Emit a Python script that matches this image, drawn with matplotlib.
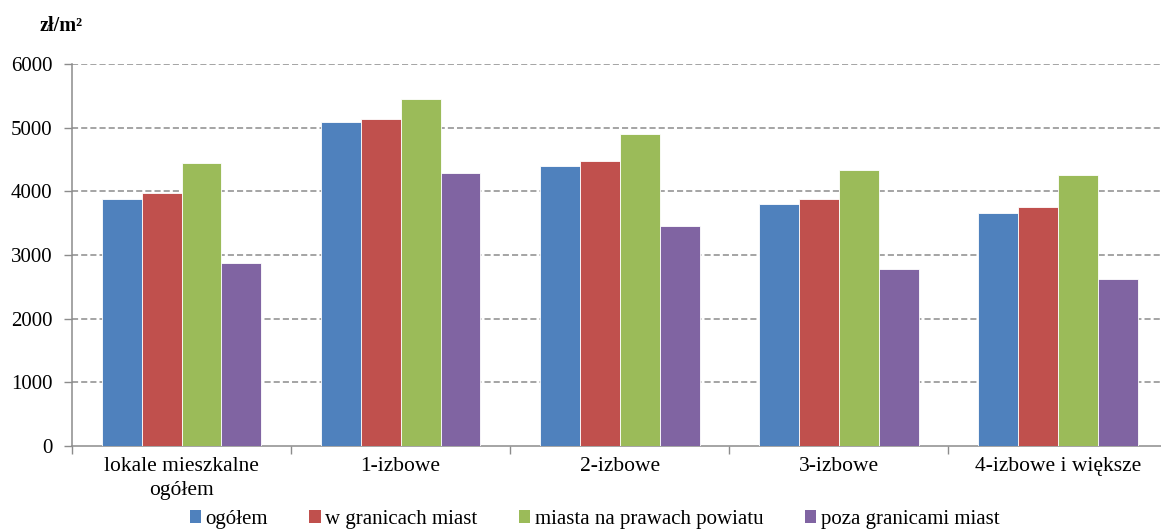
import numpy as np
import matplotlib.pyplot as plt
from matplotlib.patches import Patch

# Ceny lokali mieszkalnych (zł/m2)
categories = ["lokale mieszkalne\nogółem", "1-izbowe", "2-izbowe", "3-izbowe", "4-izbowe i większe"]
series_names = ["ogółem", "w granicach miast", "miasta na prawach powiatu", "poza granicami miast"]
ogolem = [3880, 5095, 4400, 3800, 3655]
w_granicach = [3970, 5140, 4470, 3880, 3755]
miasta_npp = [4445, 5445, 4900, 4330, 4250]
poza_granicami = [2870, 4285, 3455, 2785, 2630]
yticks = [0, 1000, 2000, 3000, 4000, 5000, 6000]

colors = ["#4F81BD", "#C0504D", "#9BBB59", "#8064A2"]
plt.rcParams['font.family'] = ['Liberation Serif', 'DejaVu Serif']

fig = plt.figure(figsize=(11.61, 5.32), dpi=100)
ax = fig.add_axes([0.062, 0.1617, 0.938, 0.718])

x = np.arange(len(categories))
w = 0.182
for i, vals in enumerate([ogolem, w_granicach, miasta_npp, poza_granicami]):
    ax.bar(x + (i - 1.5) * w, vals, width=w, color=colors[i],
           edgecolor="white", linewidth=0.6, zorder=3)

ax.set_ylim(0, 6000)
ax.set_xlim(-0.5, 4.47)
ax.set_yticks(yticks)
ax.set_yticklabels([str(v) for v in yticks], fontsize=15)
for v in yticks[1:]:
    ax.axhline(v, color="#8C8C8C", linestyle=(0, (4, 2)), linewidth=1.1, zorder=1)

# category labels between tick marks at group boundaries
ax.set_xticks(np.arange(-0.5, 4.5, 1.0))
ax.set_xticklabels([])
ax.set_xticks(x, minor=True)
ax.set_xticklabels(categories, minor=True, fontsize=15.5, va="top", linespacing=1.35)
ax.tick_params(axis="x", which="minor", length=0, pad=8)
ax.tick_params(axis="x", which="major", length=6, color="#8C8C8C", width=1)
ax.tick_params(axis="y", length=6, color="#8C8C8C", width=1, pad=8)

for s in ["top", "right"]:
    ax.spines[s].set_visible(False)
for s in ["left", "bottom"]:
    ax.spines[s].set_color("#8C8C8C")
    ax.spines[s].set_linewidth(1.1)

fig.text(0.034, 0.952, "zł/m²", fontsize=14.5, fontweight="bold", ha="left", va="center")

handles = [Patch(facecolor=c, edgecolor="none") for c in colors]
fig.legend(handles, series_names, loc="center", bbox_to_anchor=(0.512, 0.024), ncol=4,
           frameon=False, fontsize=15, handlelength=0.55, handleheight=0.55,
           handletextpad=0.2, columnspacing=2.0, borderpad=0)

fig.savefig("out.png", dpi=100)
